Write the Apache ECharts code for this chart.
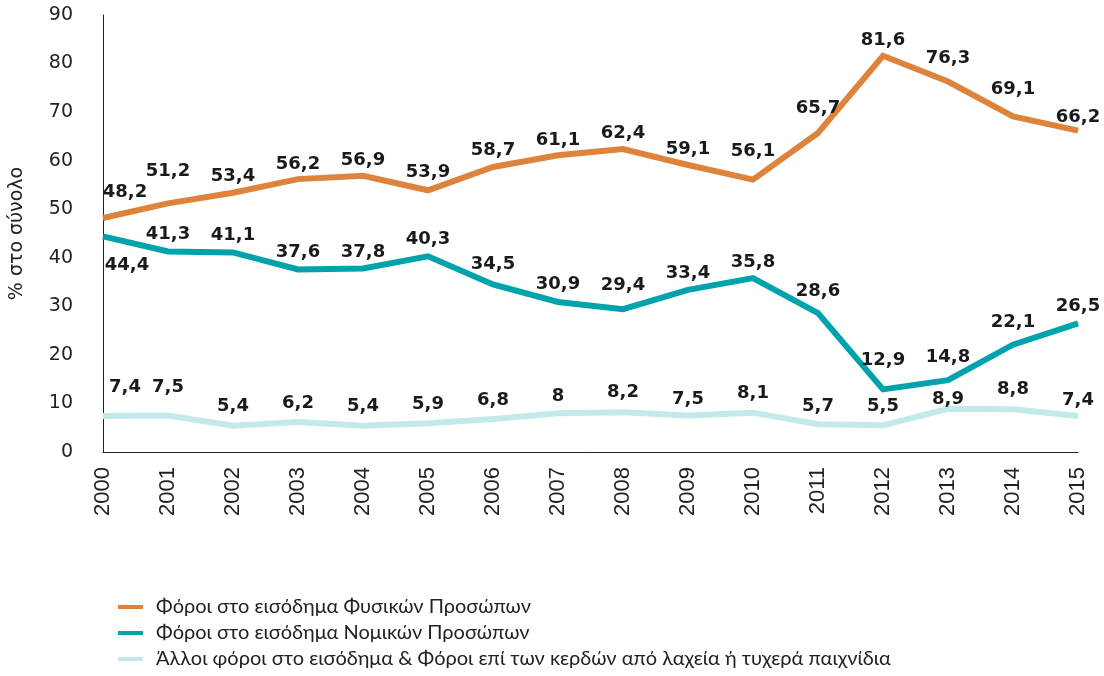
<!DOCTYPE html>
<html><head><meta charset="utf-8">
<script src="https://cdn.jsdelivr.net/npm/echarts@6/dist/echarts.min.js"></script>
<style>html,body{margin:0;padding:0;background:#fff}#c{width:1104px;height:676px}</style>
</head><body><div id="c"></div>
<script>
const years = ['2000','2001','2002','2003','2004','2005','2006','2007','2008','2009','2010','2011','2012','2013','2014','2015'];
const physical = [48.2,51.2,53.4,56.2,56.9,53.9,58.7,61.1,62.4,59.1,56.1,65.7,81.6,76.3,69.1,66.2];
const legal = [44.4,41.3,41.1,37.6,37.8,40.3,34.5,30.9,29.4,33.4,35.8,28.6,12.9,14.8,22.1,26.5];
const other = [7.4,7.5,5.4,6.2,5.4,5.9,6.8,8,8.2,7.5,8.1,5.7,5.5,8.9,8.8,7.4];
const seriesNames = ['Φόροι στο εισόδημα Φυσικών Προσώπων','Φόροι στο εισόδημα Νομικών Προσώπων','Άλλοι φόροι στο εισόδημα & Φόροι επί των κερδών από λαχεία ή τυχερά παιχνίδια'];
const yTicks = [0,10,20,30,40,50,60,70,80,90];

// label nudges in px (styling only)
const nudgeUp = [
  [9,16,0,-2,-1,1,0,-2,-1,-1,12,8,-1,7,11,-3],
  [-12,1,1,1,0,0,4,1,7,0,-1,5,13,6,6,0],
  [12,12,3,2,3,3,2,0,3,0,3,1,2,-7,3,-1]
];
const firstDx = [22,24,22];
const colors = ['#DE833B','#00A2AC','#C3EAEA'];
const FONT = 'Lato';
const LFONT = 'DejaVu Sans';

function mk(i, vals){
  return {
    name: seriesNames[i], type:'line',
    data: vals.map((v,j)=> (i===1 && j===0) ? {value:v, label:{position:'bottom'}} : v),
    symbol:'circle', symbolSize:1, showSymbol:true, showAllSymbol:true,
    lineStyle:{width:6,color:colors[i],join:'miter'},
    itemStyle:{color:colors[i]},
    z: 3-i,
    label:{show:true,position:'top',distance:7,fontFamily:LFONT,fontWeight:'bold',fontSize:18,color:'#1a1a1a',
      formatter:p=>String(p.value).replace('.',',')},
    labelLayout:(p)=>({dx: p.dataIndex===0?firstDx[i]:0, dy: -nudgeUp[i][p.dataIndex], hideOverlap:false}),
    emphasis:{disabled:true},
    animation:false
  };
}

const chart = echarts.init(document.getElementById('c'));
chart.setOption({
  animation:false,
  textStyle:{fontFamily:FONT},
  grid:{left:103,right:26,top:15,bottom:224,containLabel:false},
  legend:{orient:'vertical',left:113,top:592,height:120,itemGap:6,itemWidth:25,itemHeight:4,icon:'rect',
    textStyle:{fontFamily:FONT,fontSize:20,color:'#222',padding:[0,0,0,8]},
    data:seriesNames.map((n,i)=>({name:n,itemStyle:{color:colors[i]}}))},
  xAxis:{type:'category',data:years,boundaryGap:false,
    axisLine:{lineStyle:{color:'#222',width:1}},axisTick:{show:false},
    axisLabel:{rotate:90,fontSize:22,color:'#222',margin:15,fontFamily:'Liberation Sans'}},
  yAxis:{type:'value',min:0,max:90,interval:10,
    name:'% στο σύνολο',nameLocation:'middle',nameRotate:90,nameGap:76,
    nameTextStyle:{fontSize:19,color:'#222',fontFamily:LFONT},
    axisLine:{show:true,lineStyle:{color:'#222',width:1}},axisTick:{show:false},splitLine:{show:false},
    axisLabel:{fontSize:19,color:'#222',margin:30,fontFamily:LFONT,formatter:v=>yTicks.includes(v)?String(v):''}},
  series:[mk(0,physical),mk(1,legal),mk(2,other)]
});
</script></body></html>
